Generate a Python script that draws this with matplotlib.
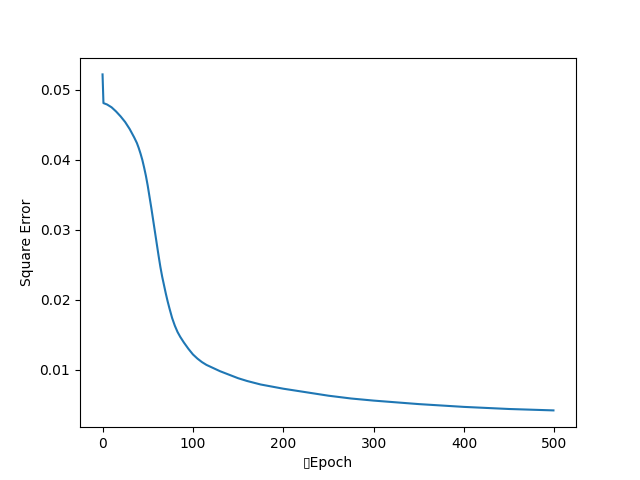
import matplotlib
matplotlib.use("Agg")
import matplotlib.pyplot as plt

# Square error per epoch
epochs = [0, 1, 5, 10, 15, 20, 25, 30, 35, 38, 40, 42, 44, 46, 48, 50, 52,
          54, 56, 58, 60, 62, 64, 66, 68, 70, 72, 74, 77, 80, 83, 86, 90, 95,
          100, 105, 110, 115, 120, 130, 140, 150, 160, 175, 200, 230, 250,
          275, 300, 350, 400, 450, 499]
errors = [0.0522, 0.0481, 0.0479, 0.0475, 0.0469, 0.0462, 0.0454, 0.0444,
          0.0432, 0.0424, 0.0417, 0.0409, 0.0400, 0.0389, 0.0377, 0.0363,
          0.0347, 0.0331, 0.0314, 0.0297, 0.0280, 0.0263, 0.0247, 0.0233,
          0.0221, 0.0209, 0.0198, 0.0188, 0.0174, 0.0163, 0.0154, 0.0147,
          0.0139, 0.0130, 0.0122, 0.0116, 0.0111, 0.0107, 0.0104, 0.0098,
          0.0093, 0.0088, 0.0084, 0.0079, 0.0073, 0.0067, 0.0063, 0.0059,
          0.0056, 0.0051, 0.0047, 0.0044, 0.0042]

# the reference label starts with an empty-box glyph
x_label = "\u25afEpoch"
y_label = "Square Error"

fig = plt.figure(figsize=(6.4, 4.8), dpi=100)
plt.plot(epochs, errors)
plt.xlabel(x_label)
plt.ylabel(y_label)
plt.savefig("out.png")
